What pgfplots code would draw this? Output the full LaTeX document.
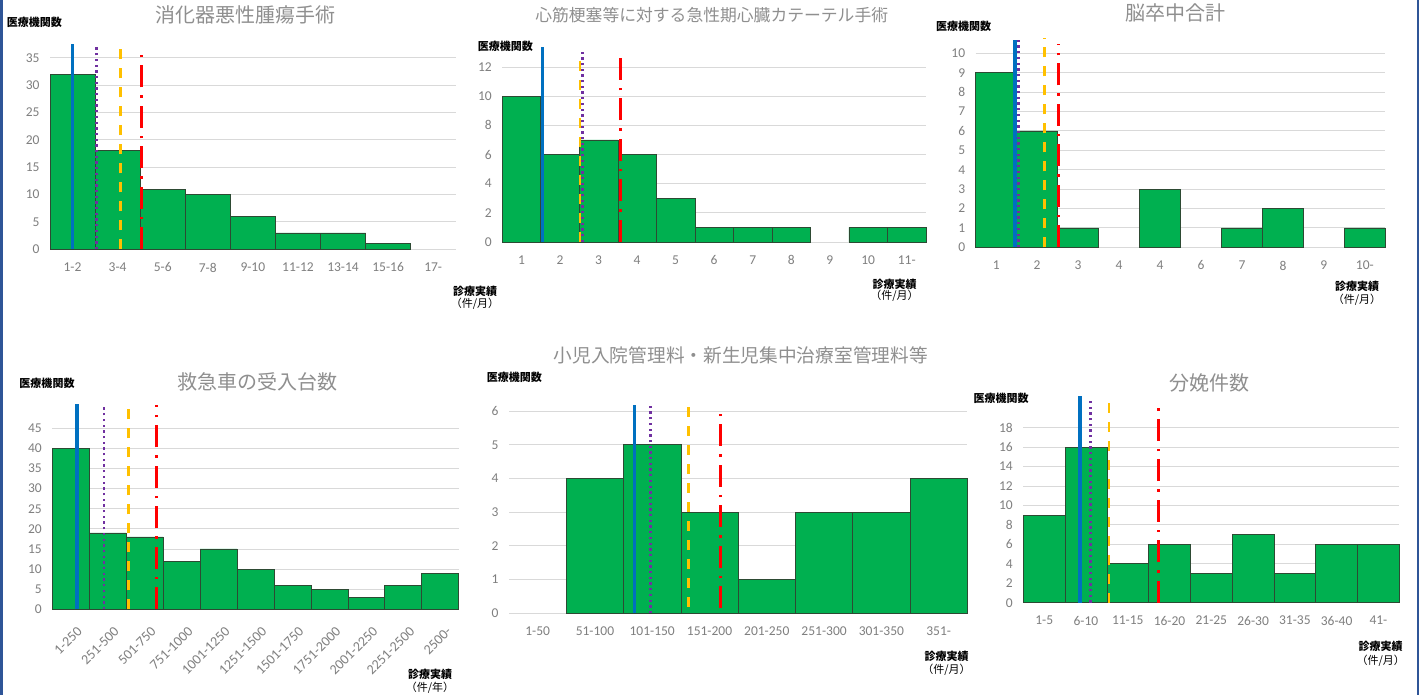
\documentclass[border=0pt]{standalone}
\usepackage{pgfplots}
\pgfplotsset{compat=1.18}
\usepackage{fontspec}
\setmainfont{Carlito}
\newfontfamily\cjk{Noto Sans CJK JP}
\definecolor{barg}{HTML}{00B050}
\definecolor{bard}{HTML}{2D4A33}
\definecolor{gridc}{HTML}{D9D9D9}
\definecolor{tickc}{HTML}{7F7F7F}
\definecolor{titlec}{HTML}{8F8F8F}
\definecolor{lblue}{HTML}{0070C0}
\definecolor{lpurple}{HTML}{7030A0}
\definecolor{lorange}{HTML}{FFC000}
\definecolor{lred}{HTML}{FF0000}
\definecolor{framec}{HTML}{2F5597}
\pgfplotsset{
  hist/.style={
    scale only axis, anchor=south west,
    axis line style={draw=none},
    major tick length=0pt,
    ymajorgrids, grid style={draw=gridc, line width=0.9pt},
    xmin=-0.5, ymin=0,
    clip=false,
    ticklabel style={font=\fontsize{13.5}{13.5}\selectfont, text=tickc},
    /pgf/number format/assume math mode=true,
    yticklabel style={xshift=-7pt},
    xticklabel style={yshift=-10pt},
  },
  bars/.style={ybar, bar width=1, bar shift=0pt, fill=barg, draw=bard, line width=0.7pt},
  Lb/.style={draw=lblue, line width=3.5pt, no marks},
  Lp/.style={draw=lpurple, line width=2.4pt, dash pattern=on 2.3pt off 3.4pt, no marks},
  Lo/.style={draw=lorange, line width=2.6pt, dash pattern=on 10pt off 9pt, no marks},
  Lr/.style={draw=lred, line width=3pt, dash pattern=on 22pt off 8pt on 2.5pt off 8pt, no marks},
}
\newcommand{\ttl}[3]{\node[font={\cjk\fontsize{#3}{#3}\selectfont}, text=titlec] at (#1) {#2};}
\newcommand{\ylab}[1]{\node[anchor=west, font={\cjk\bfseries\fontsize{11}{11}\selectfont}, inner sep=0pt] at (#1) {医療機関数};}
\newcommand{\xlab}[3]{\node[font={\cjk\bfseries\fontsize{11}{11}\selectfont}, inner sep=0pt] at (#1) {診療実績};
  \node[font={\cjk\fontsize{11}{11}\selectfont}, inner sep=0pt] at (#2) {（件/#3）};}
\begin{document}
\begin{tikzpicture}
\useasboundingbox (0pt,0pt) rectangle (1420pt,695pt);
\fill[white] (0pt,0pt) rectangle (1420pt,695pt);

% Panel 1
\begin{axis}[hist, at={(50pt,445.7pt)}, width=405.7pt, height=191.6pt,
  xmax=8.5, ymax=35, ytick={0,5,...,35},
  xtick={0,...,8}, xticklabels={1-2,3-4,5-6,7-8,9-10,11-12,13-14,15-16,17-}]
\addplot[bars] coordinates {(0,32) (1,18) (2,11) (3,10) (4,6) (5,3) (6,3) (7,1)};
\addplot[Lb] coordinates {(0.00,0) (0.00,37.5)};
\addplot[Lp] coordinates {(0.53,0) (0.53,37.0)};
\addplot[Lo] coordinates {(1.07,0) (1.07,37.8)};
\addplot[Lr] coordinates {(1.53,0) (1.53,36.5)};
\end{axis}
\ttl{245pt,680pt}{消化器悪性腫瘍手術}{20}
\ylab{6.7pt,673pt}
\xlab{475pt,404pt}{475pt,391.5pt}{月}

% Panel 2
\begin{axis}[hist, at={(502.3pt,453pt)}, width=423.7pt, height=175pt,
  xmax=10.5, ymax=12, ytick={0,2,...,12},
  xtick={0,...,10}, xticklabels={1,2,3,4,5,6,7,8,9,10,11-}]
\addplot[bars] coordinates {(0,10) (1,6) (2,7) (3,6) (4,3) (5,1) (6,1) (7,1) (9,1) (10,1)};
\addplot[Lb] coordinates {(0.54,0) (0.54,13.37)};
\addplot[Lo] coordinates {(1.52,0) (1.52,12.75)};
\addplot[Lp] coordinates {(1.58,0) (1.58,13.05)};
\addplot[Lr] coordinates {(2.58,0) (2.58,12.94)};
\end{axis}
\ttl{711.7pt,680pt}{心筋梗塞等に対する急性期心臓カテーテル手術}{16.8}
\ylab{477.7pt,648.3pt}
\xlab{894.5pt,411pt}{894.5pt,399pt}{月}

% Panel 3
\begin{axis}[hist, at={(975.7pt,447.7pt)}, width=409.6pt, height=194pt,
  xmax=9.5, ymax=10, ytick={0,...,10},
  xtick={0,...,9}, xticklabels={1,2,3,4,4,6,7,8,9,10-}]
\addplot[bars] coordinates {(0,9) (1,6) (2,1) (4,3) (6,1) (7,2) (9,1)};
\addplot[Lb] coordinates {(0.46,0) (0.46,10.69)};
\addplot[Lp] coordinates {(0.54,0) (0.54,10.69)};
\addplot[Lo] coordinates {(1.18,0) (1.18,10.8)};
\addplot[Lr] coordinates {(1.53,0) (1.53,10.46)};
\end{axis}
\ttl{1175.8pt,682.3pt}{脳卒中合計}{20}
\ylab{936pt,669pt}
\xlab{1357pt,408.3pt}{1357pt,395pt}{月}

% Panel 4
\begin{axis}[hist, at={(52.3pt,85.7pt)}, width=406.4pt, height=181pt,
  xmax=10.5, ymax=45, ytick={0,5,...,45},
  xtick={0,...,10}, xticklabels={1-250,251-500,501-750,751-1000,1001-1250,1251-1500,1501-1750,1751-2000,2001-2250,2251-2500,2500-},
  xticklabel style={rotate=45, anchor=east, xshift=3pt, yshift=-13pt, font=\fontsize{14}{14}\selectfont}]
\addplot[bars] coordinates {(0,40) (1,19) (2,18) (3,12) (4,15) (5,10) (6,6) (7,5) (8,3) (9,6) (10,9)};
\addplot[Lb] coordinates {(0.17,0) (0.17,51.0)};
\addplot[Lp] coordinates {(0.90,0) (0.90,50.4)};
\addplot[Lo] coordinates {(1.56,0) (1.56,51.4)};
\addplot[Lr] coordinates {(2.33,0) (2.33,50.7)};
\end{axis}
\ttl{257pt,313.3pt}{救急車の受入台数}{20}
\ylab{19.3pt,311.7pt}
\xlab{430pt,21pt}{430pt,7.7pt}{年}

% Panel 5
\begin{axis}[hist, at={(509pt,81.7pt)}, width=458.3pt, height=202.3pt,
  xmax=7.5, ymax=6, ytick={0,...,6},
  xtick={0,...,7}, xticklabels={1-50,51-100,101-150,151-200,201-250,251-300,301-350,351-}]
\addplot[bars] coordinates {(1,4) (2,5) (3,3) (4,1) (5,3) (6,3) (7,4)};
\addplot[Lb] coordinates {(1.69,0) (1.69,6.18)};
\addplot[Lp] coordinates {(1.97,0) (1.97,6.15)};
\addplot[Lo] coordinates {(2.63,0.2) (2.63,6.28)};
\addplot[Lr] coordinates {(3.19,0.15) (3.19,6.08)};
\end{axis}
\ttl{740.8pt,340pt}{小児入院管理料・新生児集中治療室管理料等}{18.7}
\ylab{486.7pt,317.3pt}
\xlab{946.5pt,38.3pt}{946.5pt,25pt}{月}

% Panel 6
\begin{axis}[hist, at={(1023.3pt,92.3pt)}, width=376pt, height=175pt,
  xmax=8.5, ymax=18, ytick={0,2,...,18},
  xtick={0,...,8}, xticklabels={1-5,6-10,11-15,16-20,21-25,26-30,31-35,36-40,41-}]
\addplot[bars] coordinates {(0,9) (1,16) (2,4) (3,6) (4,3) (5,7) (6,3) (7,6) (8,6)};
\addplot[Lb] coordinates {(0.86,0) (0.86,21.3)};
\addplot[Lp] coordinates {(1.11,0) (1.11,21.0)};
\addplot[Lo] coordinates {(1.55,0) (1.55,21.0)};
\addplot[Lr] coordinates {(2.74,0) (2.74,20.7)};
\end{axis}
\ttl{1209.2pt,311.7pt}{分娩件数}{20}
\ylab{973.3pt,296.7pt}
\xlab{1380.7pt,48.3pt}{1380.7pt,34.3pt}{月}

\draw[framec, line width=2.6pt] (1.3pt,0pt) -- (1.3pt,695pt);
\draw[framec, line width=2.6pt] (1417.8pt,0pt) -- (1417.8pt,695pt);
\end{tikzpicture}
\end{document}
